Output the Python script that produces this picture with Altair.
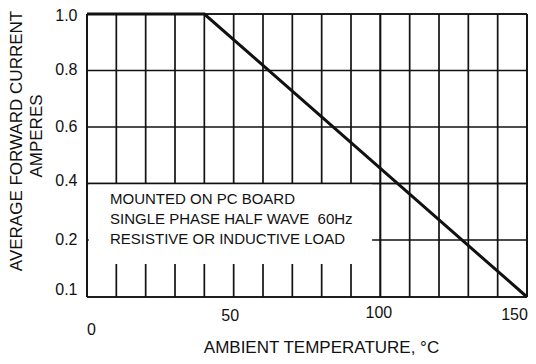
import altair as alt
import pandas as pd

# Derating curve
temp = [0, 40, 150]
current = [1.0, 1.0, 0.1]

# Grid / tick values
x_grid = [0, 10, 20, 30, 40, 50, 60, 70, 80, 90, 100, 110, 120, 130, 140, 150]
y_grid = [0.1, 0.2, 0.4, 0.6, 0.8, 1.0]
x_ticks = [0, 50, 100, 150]
y_ticks = [0.1, 0.2, 0.4, 0.6, 0.8, 1.0]

# Lines drawn above the note box
x_front = [0, 100, 150]
y_front = [0.1, 0.4, 1.0]

note_lines = ["MOUNTED ON PC BOARD", "SINGLE PHASE HALF WAVE\u00a0 60Hz", "RESISTIVE OR INDUCTIVE LOAD"]
y_title_lines = ["AVERAGE FORWARD CURRENT", "AMPERES"]
# note box extent in data units
box_x = [0.6, 97.2]
box_y = [0.158, 0.4]

FONT = "Liberation Sans"
INK = "#111111"

xscale = alt.Scale(domain=[0, 150], nice=False, zero=False)
yscale = alt.Scale(domain=[0.1, 0.2, 1.0], range=[283, 226, 0])

line_df = pd.DataFrame({"t": temp, "i": current})
xg_df = pd.DataFrame({"t": x_grid})
yg_df = pd.DataFrame({"i": y_grid})
xf_df = pd.DataFrame({"t": x_front})
yf_df = pd.DataFrame({"i": y_front})
box_df = pd.DataFrame({"x1": [box_x[0]], "x2": [box_x[1]], "y1": [box_y[0]], "y2": [box_y[1]]})
note_df = pd.DataFrame({"txt": note_lines, "row": [0, 1, 2]})
yt_df = pd.DataFrame({"txt": y_title_lines, "row": [0, 1]})

x_axis = alt.Axis(
    values=x_ticks, format="d", domain=False, ticks=False, grid=False,
    labelFont=FONT, labelFontSize=16, labelColor=INK, labelBaseline="top",
    labelPadding={"expr": "datum.value == 0 ? 24 : datum.value == 50 ? 10 : datum.value == 100 ? 7 : 9"},
    labelOffset={"expr": "datum.value == 0 ? 4 : datum.value == 50 ? -4 : datum.value == 100 ? -2 : -13"},
    labelFlush=False, labelOverlap=False,
    title="AMBIENT TEMPERATURE, °C", titleFont=FONT, titleFontSize=17, titleFontWeight="normal",
    titleColor=INK, titleX=234, titleY=55, titleBaseline="alphabetic", titleAnchor="start", titleAlign="center",
)
y_axis = alt.Axis(
    values=y_ticks, format=".1f", domain=False, ticks=False, grid=False,
    labelFont=FONT, labelFontSize=16, labelColor=INK, labelPadding=10,
    labelOffset={"expr": "datum.value == 1 ? 1 : datum.value == 0.1 ? -8 : datum.value == 0.4 ? -3 : -1"},
    labelFlush=False, labelOverlap=False,
    title=None,
)


def X(field):
    return alt.X(field, scale=xscale, axis=None)


def Y(field):
    return alt.Y(field, scale=yscale, axis=None)


vgrid = alt.Chart(xg_df).mark_rule(color=INK, strokeWidth=1.7).encode(
    x=alt.X("t:Q", scale=xscale, axis=x_axis)
)
hgrid = alt.Chart(yg_df).mark_rule(color=INK, strokeWidth=1.7).encode(
    y=alt.Y("i:Q", scale=yscale, axis=y_axis)
)
box = alt.Chart(box_df).mark_rect(color="white").encode(
    x=X("x1:Q"), x2="x2", y=Y("y1:Q"), y2="y2"
)
vfront = alt.Chart(xf_df).mark_rule(color=INK, strokeWidth=1.7).encode(x=X("t:Q"))
hfront = alt.Chart(yf_df).mark_rule(color=INK, strokeWidth=1.7).encode(y=Y("i:Q"))
note = alt.Chart(note_df).mark_text(
    font=FONT, fontSize=15, color=INK, align="left", baseline="alphabetic"
).encode(
    x=alt.value(23),
    y=alt.Y("row:Q", scale=alt.Scale(domain=[0, 2], range=[190, 230]), axis=None),
    text="txt:N",
)
ytitle = alt.Chart(yt_df).mark_text(
    font=FONT, fontSize=17, color=INK, align="center", baseline="middle", angle=270
).encode(
    x=alt.X("row:Q", scale=alt.Scale(domain=[0, 1], range=[-70, -50]), axis=None),
    y=alt.Y("row:Q", scale=alt.Scale(domain=[0, 1], range=[127, 122]), axis=None),
    text="txt:N",
)
curve = alt.Chart(line_df).mark_line(color=INK, strokeWidth=3).encode(
    x=X("t:Q"), y=Y("i:Q")
)

chart = alt.layer(vgrid, hgrid, box, vfront, hfront, note, ytitle, curve).resolve_scale(
    y="independent", x="independent"
).properties(
    width=440, height=283,
    autosize=alt.AutoSizeParams(type="none"),
    padding={"left": 79, "top": 6, "right": 1, "bottom": 59},
).configure_view(stroke=None).configure(background="white")

chart.save("out.html", embed_options={"renderer": "svg", "actions": False})
